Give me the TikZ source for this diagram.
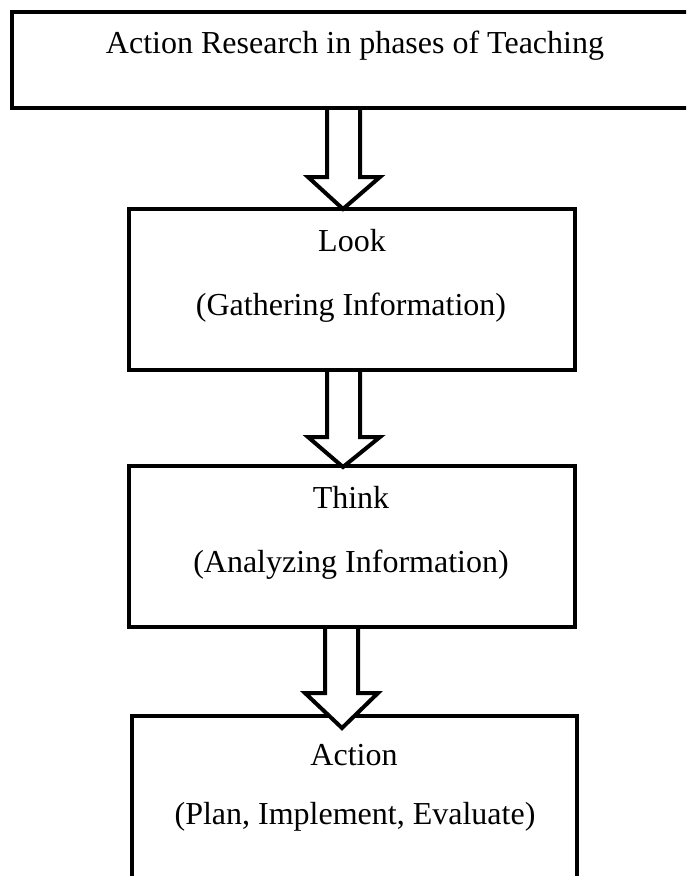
\documentclass[tikz,border=0pt]{standalone}
\usepackage{fontspec}
\setmainfont{Liberation Serif}
\begin{document}
\begin{tikzpicture}[x=1pt,y=-1pt,
  boxst/.style={draw=black,line width=4pt,fill=white,inner sep=0pt,outer sep=2pt,rectangle},
  txt/.style={inner sep=0pt,font=\fontsize{32}{38}\selectfont,text=black},
  blockarrow/.style={draw=black,line width=4pt,fill=white,line join=miter}]
\useasboundingbox (0,0) rectangle (686,876);
\clip (0,0) rectangle (686,876);
\fill[white] (0,0) rectangle (686,876);
% boxes
\node[boxst,minimum width=690pt,minimum height=96pt] (title) at (357,60) {};
\node[boxst,minimum width=446pt,minimum height=161pt] (look) at (351.5,289.5) {};
\node[boxst,minimum width=446pt,minimum height=161pt] (think) at (351.5,546.5) {};
\node[boxst,minimum width=445pt,minimum height=200pt] (action) at (354.5,816) {};
% texts
\node[txt] (t0) at (355,46) {Action Research in phases of Teaching};
\node[txt] (t1) at (352,241) {Look};
\node[txt] (t2) at (351,308) {(Gathering Information)};
\node[txt] (t3) at (351,497) {Think};
\node[txt] (t4) at (351,565) {(Analyzing Information)};
\node[txt] (t5) at (354,755) {Action};
\node[txt] (t6) at (355,817) {(Plan, Implement, Evaluate)};
% block arrows
\draw[blockarrow] (327,0 |- title.south) -- (327,177) -- (308,177)
   -- (343,209) -- (380,177) -- (360,177) -- (360,0 |- title.south);
\draw[blockarrow] (327,0 |- look.south) -- (327,437) -- (308,437)
   -- (343,467) -- (380,437) -- (360,437) -- (360,0 |- look.south);
\draw[blockarrow] (325,0 |- think.south) -- (325,693) -- (305,693)
   -- (342,728) -- (378,693) -- (358,693) -- (358,0 |- think.south);
\end{tikzpicture}
\end{document}
